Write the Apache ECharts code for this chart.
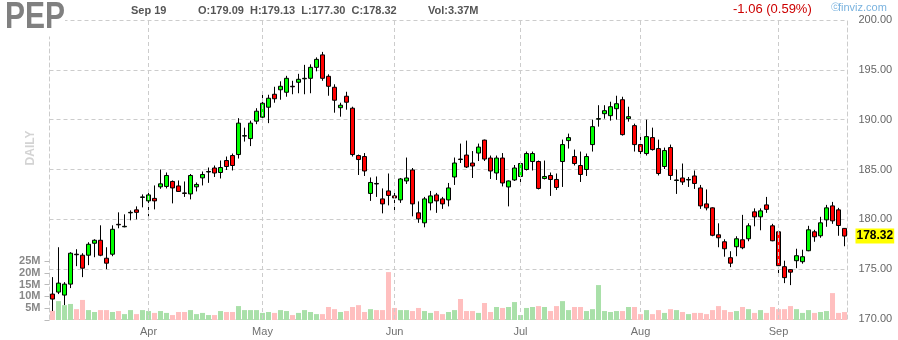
<!DOCTYPE html>
<html>
<head>
<meta charset="utf-8">
<script src="https://cdn.jsdelivr.net/npm/echarts@6/dist/echarts.min.js"></script>
<style>
html,body{margin:0;padding:0;background:#fff;}
#chart{width:898px;height:340px;}
</style>
</head>
<body>
<div id="chart"></div>
<script>
// ---------- data ----------
const ticker = 'PEP';
const categories = [
'2023-03-10','2023-03-13','2023-03-14','2023-03-15','2023-03-16','2023-03-17','2023-03-20','2023-03-21','2023-03-22','2023-03-23','2023-03-24','2023-03-27','2023-03-28','2023-03-29','2023-03-30','2023-03-31',
'2023-04-03','2023-04-04','2023-04-05','2023-04-06','2023-04-10','2023-04-11','2023-04-12','2023-04-13','2023-04-14','2023-04-17','2023-04-18','2023-04-19','2023-04-20','2023-04-21','2023-04-24','2023-04-25','2023-04-26','2023-04-27','2023-04-28',
'2023-05-01','2023-05-02','2023-05-03','2023-05-04','2023-05-05','2023-05-08','2023-05-09','2023-05-10','2023-05-11','2023-05-12','2023-05-15','2023-05-16','2023-05-17','2023-05-18','2023-05-19','2023-05-22','2023-05-23','2023-05-24','2023-05-25','2023-05-26','2023-05-30','2023-05-31',
'2023-06-01','2023-06-02','2023-06-05','2023-06-06','2023-06-07','2023-06-08','2023-06-09','2023-06-12','2023-06-13','2023-06-14','2023-06-15','2023-06-16','2023-06-20','2023-06-21','2023-06-22','2023-06-23','2023-06-26','2023-06-27','2023-06-28','2023-06-29','2023-06-30',
'2023-07-03','2023-07-05','2023-07-06','2023-07-07','2023-07-10','2023-07-11','2023-07-12','2023-07-13','2023-07-14','2023-07-17','2023-07-18','2023-07-19','2023-07-20','2023-07-21','2023-07-24','2023-07-25','2023-07-26','2023-07-27','2023-07-28','2023-07-31',
'2023-08-01','2023-08-02','2023-08-03','2023-08-04','2023-08-07','2023-08-08','2023-08-09','2023-08-10','2023-08-11','2023-08-14','2023-08-15','2023-08-16','2023-08-17','2023-08-18','2023-08-21','2023-08-22','2023-08-23','2023-08-24','2023-08-25','2023-08-28','2023-08-29','2023-08-30','2023-08-31',
'2023-09-01','2023-09-05','2023-09-06','2023-09-07','2023-09-08','2023-09-11','2023-09-12','2023-09-13','2023-09-14','2023-09-15','2023-09-18','2023-09-19'
];
const opens = [
172.5,172.7,172.4,173.5,176.5,176.4,176.4,177.6,177.9,176.1,176.5,179.5,179.25,180.65,180.95,182.2,
181.85,182.1,183.26,183.3,183.8,183.35,182.65,182.55,183.26,184.16,184.75,185.15,184.7,185.9,186.4,186.5,188.35,188.1,189.85,
190.25,191.25,192.55,193.0,192.75,193.35,193.75,194.1,194.15,195.25,196.5,194.35,193.25,191.2,192.35,191.15,186.4,186.3,182.6,183.6,182.05,182.85,
182.35,181.95,183.85,184.95,180.65,179.65,181.65,182.45,182.05,181.95,184.25,186.05,186.45,185.65,186.65,187.95,186.15,184.65,186.15,183.25,183.95,
184.3,185.0,185.8,185.8,184.1,184.4,184.0,185.8,187.9,186.3,185.4,185.0,187.5,190.05,190.6,190.4,191.1,192.0,190.1,189.4,
187.5,186.6,188.2,187.1,185.3,187.2,183.9,184.15,183.95,184.35,183.15,181.55,181.15,178.45,177.75,176.15,177.25,177.95,178.05,180.75,180.25,181.45,179.35,
178.75,175.25,174.95,175.85,175.75,176.85,178.75,178.35,179.95,181.35,180.95,179.09
];
const closes = [
172.0,173.6,173.5,176.6,176.45,175.1,177.5,177.9,176.4,175.6,179.0,179.45,179.3,180.7,180.7,182.25,
182.45,181.85,183.56,184.4,183.15,182.8,182.6,184.4,183.5,184.5,184.8,184.65,185.2,185.3,185.4,189.65,188.4,189.65,190.85,
191.65,192.15,192.1,193.35,194.15,193.3,194.05,194.15,195.25,196.05,194.15,193.35,191.95,191.45,191.75,186.5,186.0,184.85,183.7,183.55,181.55,182.4,
182.15,184.05,184.15,181.55,180.05,182.05,182.35,181.85,181.55,183.15,185.65,186.0,185.25,185.35,187.25,186.05,184.85,186.15,183.65,183.85,185.15,
185.6,186.6,186.6,183.1,184.3,184.0,183.2,187.5,188.2,185.6,184.5,186.3,189.3,190.1,190.9,191.3,191.6,188.5,190.3,187.5,
186.8,188.3,187.0,184.6,186.9,184.4,183.95,183.75,184.0,183.6,181.35,181.15,178.4,178.15,177.05,175.6,178.05,177.15,179.35,180.25,180.85,181.0,177.85,
175.35,174.15,174.7,176.35,176.25,178.95,178.25,179.65,181.15,179.85,179.38,178.32
];
const lows = [
170.8,172.5,171.4,173.1,175.3,174.2,175.4,176.2,176.3,175.0,176.3,179.1,179.2,179.9,180.0,181.2,
180.3,181.0,183.06,183.1,181.6,182.75,182.25,182.0,182.8,183.4,183.66,184.25,184.1,184.95,184.9,186.1,187.8,187.35,189.55,
190.15,189.65,191.7,192.0,192.3,192.55,192.65,192.55,192.65,194.85,193.9,192.4,190.7,190.3,191.0,186.3,184.45,184.35,181.85,182.25,180.6,181.4,
180.7,181.65,183.55,180.3,179.65,179.2,180.9,180.65,181.05,181.3,183.45,185.65,185.15,184.15,185.85,185.85,184.05,183.95,183.3,181.3,183.85,
183.45,184.9,184.9,183.0,184.0,182.35,182.95,183.25,187.1,185.4,183.75,184.35,186.8,189.3,190.1,189.9,190.0,188.4,189.8,186.8,
186.4,186.4,186.9,184.4,185.05,183.95,182.55,183.45,183.25,183.05,181.05,180.9,178.3,177.2,176.25,175.2,176.3,177.0,177.8,179.3,178.9,180.65,177.8,
174.6,173.6,173.4,175.1,175.55,176.8,177.75,178.15,179.25,179.55,178.35,177.30
];
const highs = [
174.2,177.2,173.7,176.7,177.0,176.6,177.7,178.0,179.4,177.2,179.4,180.7,180.5,180.9,181.3,182.5,
182.8,183.4,185.0,184.7,183.9,183.9,183.8,184.55,183.7,184.8,185.2,185.4,185.9,186.3,186.6,190.15,189.2,189.9,191.15,
192.5,192.5,193.3,193.85,194.4,193.9,194.6,195.5,195.55,196.25,196.8,194.55,193.55,191.7,192.8,191.3,186.5,186.65,184.2,184.3,183.1,184.6,
182.65,184.15,186.2,185.15,181.8,182.25,182.85,182.65,182.25,183.65,186.2,187.6,187.9,186.85,187.6,188.0,186.4,186.4,186.65,183.9,185.45,
185.65,186.8,186.8,185.9,185.9,184.7,184.6,188.0,188.6,187.0,186.8,186.6,190.0,191.45,191.45,191.8,192.4,192.3,191.3,189.6,
188.6,190.0,189.2,188.0,187.2,187.5,185.0,185.6,184.25,184.9,183.45,183.0,181.2,179.6,178.0,176.8,178.3,180.45,179.6,181.1,181.1,182.25,179.55,
178.85,175.85,175.0,177.05,176.95,179.35,178.95,180.25,181.45,181.75,181.15,179.13
];
const volumes = [ // millions of shares
3.9,8.0,6.3,6.8,4.6,8.5,4.2,3.4,4.2,4.2,3.4,3.8,2.5,4.2,2.5,4.2,
3.8,3.0,3.8,3.0,2.1,3.4,3.4,4.2,2.5,3.0,2.1,2.1,3.8,3.4,3.4,5.9,4.2,4.2,4.2,
3.0,3.4,3.0,4.2,3.8,2.1,3.0,4.2,3.4,2.5,2.5,5.5,4.6,3.4,3.8,5.5,6.3,3.4,4.6,4.2,4.2,20.3,
5.1,4.2,4.2,3.8,5.1,3.8,3.0,3.8,2.5,3.4,4.2,8.9,3.8,3.8,3.0,7.2,3.4,5.5,5.1,5.5,7.6,
2.1,5.1,5.5,5.9,5.5,3.8,5.9,8.0,4.2,5.5,5.5,3.8,4.6,14.8,3.8,3.4,3.8,3.8,5.5,5.5,
2.5,4.2,2.5,4.2,3.0,4.6,4.2,3.4,2.5,3.0,3.0,2.5,4.2,5.9,4.2,3.4,3.8,5.5,4.6,3.0,4.2,3.0,5.5,
4.6,4.6,5.9,4.6,3.0,4.2,3.0,3.4,3.8,11.4,3.0,3.37
];
const priceAxisRange = [170, 200];
const priceAxisStep = 5;
const volumeTickLabels = ['5M','10M','15M','20M','25M'];
const monthNames = ['Jan','Feb','Mar','Apr','May','Jun','Jul','Aug','Sep','Oct','Nov','Dec'];

// ---------- styles ----------
const FONT = '"Liberation Sans", Arial, sans-serif';
const GRID_COLOR = '#cccccc';
const UP = '#00ff00', DOWN = '#ff0000';
const VOL_UP = '#a9e0a9', VOL_DOWN = '#ffbfbf';

const n = categories.length;
const ohlc = categories.map((c, i) => [opens[i], closes[i], lows[i], highs[i]]);
const monthOf = s => parseInt(s.slice(5, 7), 10);
const isMonthStart = i => i > 0 && monthOf(categories[i]) !== monthOf(categories[i - 1]);
const monthStarts = categories.filter((c, i) => isMonthStart(i));

const last = n - 1;
const lastDate = categories[last];
const chg = closes[last] - closes[last - 1];
const chgPct = Math.abs(chg) / closes[last - 1] * 100;

const chart = echarts.init(document.getElementById('chart'), null, {renderer: 'canvas'});

const dashed = {color: GRID_COLOR, type: [4, 3], width: 1};
const headerStyle = {font: 'bold 11px ' + FONT, fill: '#555555', align: 'left', verticalAlign: 'middle'};

function hText(x, y, text, extra) {
  return {type: 'text', x: x, y: y, z: 100, silent: true,
    style: Object.assign({}, headerStyle, {text: text, x: 0, y: 0}, extra || {})};
}

const ohlcText = 'O:' + opens[last].toFixed(2) + '  H:' + highs[last].toFixed(2) +
                 '  L:' + lows[last].toFixed(2) + '  C:' + closes[last].toFixed(2);

const option = {
  animation: false,
  backgroundColor: '#ffffff',
  textStyle: {fontFamily: FONT},
  grid: [
    {left: 49.5, width: 798, top: 20, height: 299},
    {left: 49.5, width: 798, top: 261, height: 59}
  ],
  xAxis: [
    {type: 'category', gridIndex: 0, data: categories, boundaryGap: true,
     axisLine: {show: false}, axisTick: {show: false}, splitLine: {show: false},
     axisLabel: {interval: (i) => isMonthStart(i), formatter: v => monthNames[monthOf(v) - 1],
                 color: '#707070', fontSize: 11, margin: 7, fontFamily: FONT}},
    {type: 'category', gridIndex: 1, data: categories, boundaryGap: true, show: false}
  ],
  yAxis: [
    {type: 'value', gridIndex: 0, position: 'right', min: priceAxisRange[0], max: priceAxisRange[1], interval: priceAxisStep,
     axisLine: {show: true, lineStyle: dashed}, axisTick: {show: false},
     splitLine: {show: true, lineStyle: dashed},
     axisLabel: {formatter: v => v.toFixed(2), color: '#666666', fontSize: 11, margin: 11, fontFamily: FONT}},
    {type: 'value', gridIndex: 0, position: 'left', min: priceAxisRange[0], max: priceAxisRange[1],
     axisLine: {show: true, lineStyle: dashed}, axisTick: {show: false}, axisLabel: {show: false}, splitLine: {show: false}},
    {type: 'value', gridIndex: 1, position: 'left', min: 0, max: 25, interval: 5,
     axisLine: {show: false}, splitLine: {show: false},
     axisTick: {show: true, length: 5, lineStyle: {color: '#bbbbbb'}},
     axisLabel: {formatter: v => v === 0 ? '' : volumeTickLabels[v / 5 - 1], color: '#888888', fontWeight: 'bold',
                 fontSize: 11, margin: 9, fontFamily: FONT}}
  ],
  series: [
    {type: 'bar', name: 'Volume', xAxisIndex: 1, yAxisIndex: 2, barWidth: 5, silent: true, z: 1,
     data: volumes.map((v, i) => ({value: v, itemStyle: {color: closes[i] >= opens[i] ? VOL_UP : VOL_DOWN}}))},
    {type: 'line', name: 'monthGrid', xAxisIndex: 0, yAxisIndex: 0, data: [], silent: true, z: 1,
     markLine: {silent: true, symbol: ['none', 'none'], label: {show: false},
                lineStyle: dashed, animation: false,
                data: monthStarts.map(d => ({xAxis: d}))}},
    {type: 'candlestick', name: ticker, xAxisIndex: 0, yAxisIndex: 0, barWidth: 4, z: 3, clip: false,
     data: ohlc,
     itemStyle: {color: UP, color0: DOWN, borderColor: '#000000', borderColor0: '#000000', borderWidth: 1},
     markLine: {silent: true, symbol: ['none', 'none'], animation: false,
                lineStyle: {width: 1, color: 'rgba(0,0,0,0)', type: 'solid'},
                label: {show: true, position: 'end', distance: 8, formatter: p => Number(p.value).toFixed(2),
                        backgroundColor: '#ffff00', color: '#000000', fontWeight: 'bold', fontSize: 12,
                        fontFamily: FONT, padding: [2, 1, 1, 1]},
                data: [{yAxis: closes[last]}]}}
  ],
  graphic: [
    {type: 'text', x: 5, y: 18.3, z: 100, silent: true, scaleY: 1.22,
     style: {text: ticker, x: 0, y: 0, font: 'bold 30px ' + FONT, fill: '#808080', align: 'left', verticalAlign: 'middle',
             backgroundColor: '#ffffff'}},
    hText(131, 11, monthNames[monthOf(lastDate) - 1] + ' ' + parseInt(lastDate.slice(8), 10)),
    hText(198, 11, ohlcText),
    hText(428, 11, 'Vol:' + volumes[last].toFixed(2) + 'M'),
    hText(733, 9.5, (chg < 0 ? '-' : '+') + Math.abs(chg).toFixed(2) + ' (' + chgPct.toFixed(2) + '%)',
          {font: '13px ' + FONT, fill: '#cc0000'}),
    hText(831, 7.5, '\u24D2', {font: '9px ' + FONT, fill: '#7ab3df'}),
    hText(838, 7.5, 'finviz.com', {font: '11px ' + FONT, fill: '#7ab3df'}),
    {type: 'text', x: 31, y: 148, z: 100, silent: true, rotation: Math.PI / 2,
     style: {text: 'DAILY', x: 0, y: 0, font: 'bold 12px ' + FONT, fill: '#d3d3d3', align: 'center', verticalAlign: 'middle'}}
  ]
};
chart.setOption(option);
</script>
</body>
</html>
